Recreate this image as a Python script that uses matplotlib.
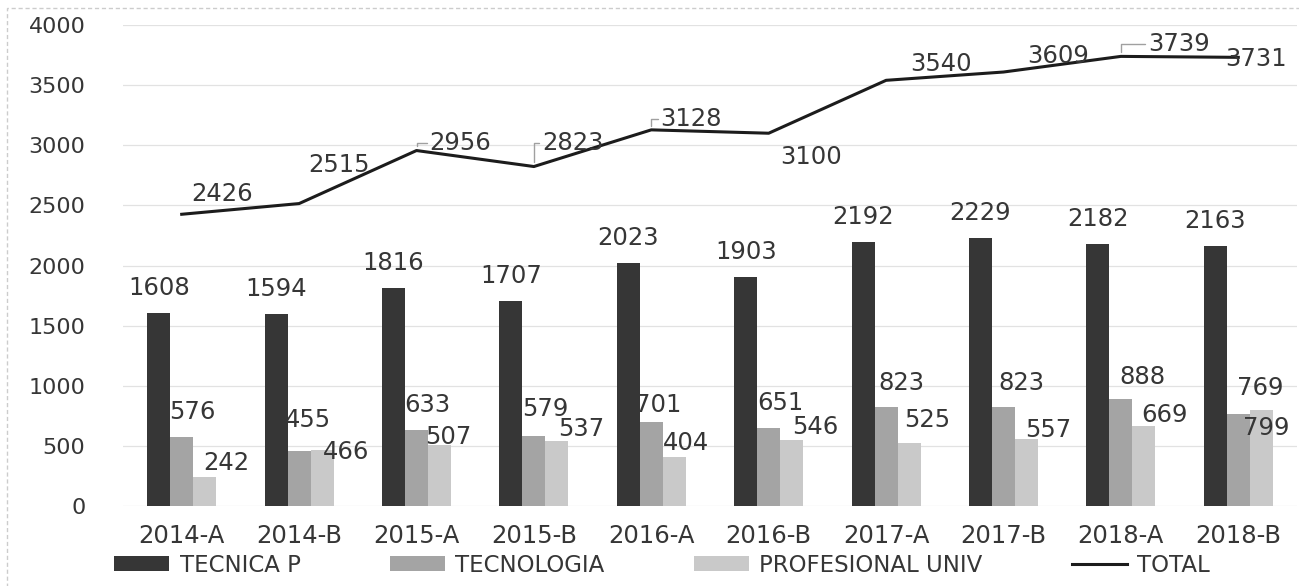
import numpy as np
import matplotlib
matplotlib.use("Agg")
import matplotlib.pyplot as plt
from matplotlib.patches import Rectangle

# ---- data ----
categories = ["2014-A", "2014-B", "2015-A", "2015-B", "2016-A",
              "2016-B", "2017-A", "2017-B", "2018-A", "2018-B"]
tecnica = [1608, 1594, 1816, 1707, 2023, 1903, 2192, 2229, 2182, 2163]
tecnologia = [576, 455, 633, 579, 701, 651, 823, 823, 888, 769]
profesional = [242, 466, 507, 537, 404, 546, 525, 557, 669, 799]
total = [2426, 2515, 2956, 2823, 3128, 3100, 3540, 3609, 3739, 3731]
series_names = ["TECNICA P", "TECNOLOGIA", "PROFESIONAL UNIV", "TOTAL"]
yticks = [0, 500, 1000, 1500, 2000, 2500, 3000, 3500, 4000]

# ---- label offsets (pixels, x right / y down) ----
off_tecnica = [(0, -25)] * 10
off_tecnologia = [(11, -25), (9, -31), (11, -25), (11, -27), (7, -17),
                  (12, -25), (15, -24), (18, -24), (22, -22), (22, -26)]
off_prof = [(22, -14), (24, 2), (9, -8), (24, -12), (12, -14),
            (24, -13), (18, -23), (22, -9), (21, -11), (5, 18)]
off_total = [(40, -20), (40, -39), (44, -8), (39, -24), (40, -11),
             (42, 24), (55, -16), (55, -16), (58, -12), (18, 2)]
leader_idx = [2, 3, 4, 8]

c_dark, c_mid, c_light = "#363636", "#a4a4a4", "#c9c9c9"
txt = "#363636"
fs_lab = 17.5

W, H = 1299, 586
fig = plt.figure(figsize=(W / 100, H / 100), dpi=100)
ax = fig.add_axes([123 / W, 80 / H, (1297 - 123) / W, (506 - 25) / H])

x = np.arange(len(categories))
bw = 0.196
b1 = ax.bar(x - bw, tecnica, bw, color=c_dark, label=series_names[0], zorder=2)
b2 = ax.bar(x, tecnologia, bw, color=c_mid, label=series_names[1], zorder=2)
b3 = ax.bar(x + bw, profesional, bw, color=c_light, label=series_names[2], zorder=2)
l1, = ax.plot(x, total, color="#1c1c1c", lw=2.2, label=series_names[3], zorder=3,
              solid_joinstyle="round")

ax.set_xlim(-0.5, len(categories) - 0.5)
ax.set_ylim(0, 4000)
ax.set_yticks(yticks)
ax.set_xticks(x)
ax.set_xticklabels(categories)
ax.yaxis.grid(True, color="#e2e2e2", lw=0.9, zorder=0)
ax.set_axisbelow(True)
for s in ax.spines.values():
    s.set_visible(False)
ax.tick_params(axis="y", length=0, pad=27, labelsize=16, labelcolor=txt)
ax.tick_params(axis="x", length=0, pad=13, labelsize=17.5, labelcolor=txt)


def lab(xs, vals, offs, shift):
    for xi, v, (dx, dy) in zip(xs, vals, offs):
        ax.annotate(str(v), xy=(xi + shift, v), xytext=(dx, -dy),
                    textcoords="offset pixels", ha="center", va="center",
                    fontsize=fs_lab, color=txt, zorder=5)


lab(x, tecnica, off_tecnica, -bw)
lab(x, tecnologia, off_tecnologia, 0)
lab(x, profesional, off_prof, bw)

for i, (xi, v, (dx, dy)) in enumerate(zip(x, total, off_total)):
    kw = {}
    if i in leader_idx:
        kw["arrowprops"] = dict(arrowstyle="-", color="#a0a0a0", lw=1.0,
                                connectionstyle="angle,angleA=180,angleB=90,rad=0",
                                relpos=(0, 0.5), shrinkA=0, shrinkB=3)
    ax.annotate(str(v), xy=(xi, v), xytext=(dx, -dy), textcoords="offset pixels",
                ha="center", va="center", fontsize=fs_lab, color=txt, zorder=5, **kw)

leg = fig.legend([b1, b2, b3, l1], series_names, loc="center",
                 bbox_to_anchor=(662 / W, 1 - 565 / H), ncol=4,
                 frameon=False, fontsize=16.5, handlelength=2.4, handleheight=0.6,
                 handletextpad=0.45, columnspacing=3.9, borderaxespad=0,
                 borderpad=0)
for t in leg.get_texts():
    t.set_color(txt)

fig.add_artist(Rectangle((7 / W, -0.1), 1.2, 1.1 - 8 / H, transform=fig.transFigure,
                         fill=False, ec="#cccccc", lw=1.0, ls=(0, (3, 2))))

fig.savefig("out.png", dpi=100, facecolor="white")
